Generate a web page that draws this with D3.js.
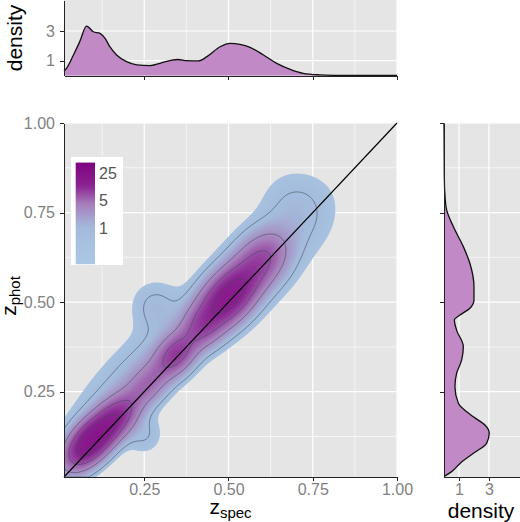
<!DOCTYPE html>
<html>
<meta charset="utf-8">
<style>
  body { margin: 0; background: #fff; }
  svg { display: block; font-family: "Liberation Sans", Arial, sans-serif; }
  .axis path, .axis line { stroke: #222; shape-rendering: crispEdges; }
  .axis text { fill: #7f7f7f; font-size: 16px; }
</style>
<body>
  <svg width="520" height="522"></svg>
</body>

<script src="https://d3js.org/d3.v7.min.js"></script>

<script>

  // marginal density of z_spec (top panel)
  var zspecGrid = [0.012, 0.02, 0.04, 0.059, 0.079, 0.099, 0.119, 0.134, 0.148, 0.168, 0.198, 0.228, 0.267, 0.297, 0.332, 0.35, 0.376, 0.411, 0.436, 0.475, 0.505, 0.534, 0.564, 0.604, 0.643, 0.683, 0.722, 0.772, 0.811, 0.9, 1.0];
  var zspecDens = [0.3, 0.5, 1.38, 2.3, 3.33, 2.95, 2.84, 2.5, 1.94, 1.38, 0.93, 0.71, 0.66, 0.82, 1.04, 1.08, 1.0, 0.98, 1.27, 1.94, 2.17, 2.10, 1.90, 1.38, 0.82, 0.42, 0.15, 0.04, 0.01, 0.0, 0.0];

  // marginal density of z_phot (right panel)
  var zphotGrid = [0.015, 0.018, 0.027, 0.050, 0.078, 0.106, 0.134, 0.157, 0.180, 0.218, 0.264, 0.301, 0.339, 0.376, 0.422, 0.450, 0.464, 0.483, 0.506, 0.543, 0.608, 0.655, 0.711, 0.757, 0.794, 0.85, 1.0];
  var zphotDens = [0.05, 0.18, 0.51, 1.07, 1.96, 2.84, 3.02, 2.73, 1.96, 0.96, 0.73, 0.84, 1.18, 1.29, 0.84, 0.69, 1.07, 1.73, 2.0, 2.0, 1.73, 1.29, 0.62, 0.18, 0.07, 0.02, 0.0];

  // 2d density read as blobs oriented along the diagonal
  //                core1  shoulder mid   core2  mid2   core3  tail   halo lo halo hi lobe    notch  tip
  var blobSpec  = [0.09,  0.165,  0.26,  0.345, 0.42,  0.50,  0.60,  0.216, 0.594, 0.28,   0.25,  0.70];
  var blobPhot  = [0.11,  0.175,  0.27,  0.355, 0.43,  0.515, 0.62,  0.279, 0.608, 0.49,   0.13,  0.77];
  var blobAlong = [0.055, 0.05,   0.05,  0.045, 0.04,  0.07,  0.055, 0.18,  0.17,  0.045,  0.035, 0.06];
  var blobAcross= [0.03,  0.03,   0.03,  0.03,  0.033, 0.038, 0.04,  0.058, 0.07,  0.045,  0.035, 0.07];
  var blobWeight= [0.19,  0.09,   0.04,  0.07,  0.04,  0.26,  0.08,  0.084, 0.075, 0.0115, 0.006, 0.016];

  var axisTicks = [0.25, 0.5, 0.75, 1.0];
  var minorTicks = [0.125, 0.375, 0.625, 0.875];
  var densTicks = [1, 3];
  var legendTicks = [1, 5, 25];
  var legendRange = [0.12, 46];
  var lineLevels = [0.8, 3, 7, 13];

  var svg = d3.select("svg");

  var main = {left: 64, right: 397, top: 123, bottom: 477};
  var topPanel = {top: 0, bottom: 76};
  var rightPanel = {left: 444, right: 520};

  var xScale = d3.scaleLinear().domain([0.012, 1]).range([main.left, main.right]);
  var yScale = d3.scaleLinear().domain([0.012, 1]).range([main.bottom, main.top]);
  var dTop = d3.scaleLinear().domain([0, 5.09]).range([75.5, 0]);
  var dRight = d3.scaleLinear().domain([0, 5.07]).range([444, 520]);

  var colour = d3.scaleLog()
    .domain([0.12, 1, 4, 12, 46])
    .range(["#aac8e3", "#a4bbdc", "#a77fbb", "#8a2290", "#7f037f"])
    .clamp(true);

  //PANELS
  function panel(x0, y0, x1, y1) {
    svg.append("rect").attr("x", x0).attr("y", y0)
      .attr("width", x1 - x0).attr("height", y1 - y0).attr("fill", "#e5e5e5");
  }
  panel(main.left, main.top, main.right, main.bottom);
  panel(main.left, topPanel.top, main.right, topPanel.bottom);
  panel(rightPanel.left, main.top, rightPanel.right, main.bottom);

  function vGrid(vals, y0, y1, w, sc) {
    svg.append("g").selectAll("line").data(vals).enter().append("line")
      .attr("x1", sc).attr("x2", sc).attr("y1", y0).attr("y2", y1)
      .attr("stroke", "#fff").attr("stroke-width", w);
  }
  function hGrid(vals, x0, x1, w, sc) {
    svg.append("g").selectAll("line").data(vals).enter().append("line")
      .attr("y1", sc).attr("y2", sc).attr("x1", x0).attr("x2", x1)
      .attr("stroke", "#fff").attr("stroke-width", w);
  }
  // main grid
  vGrid(minorTicks, main.top, main.bottom, 0.6, xScale);
  hGrid(minorTicks, main.left, main.right, 0.6, yScale);
  vGrid(axisTicks, main.top, main.bottom, 1.2, xScale);
  hGrid(axisTicks, main.left, main.right, 1.2, yScale);
  // top grid
  vGrid(minorTicks, topPanel.top, topPanel.bottom, 0.6, xScale);
  vGrid(axisTicks, topPanel.top, topPanel.bottom, 1.2, xScale);
  hGrid(densTicks, main.left, main.right, 1.2, dTop);
  // right grid
  hGrid(minorTicks, rightPanel.left, rightPanel.right, 0.6, yScale);
  hGrid(axisTicks, rightPanel.left, rightPanel.right, 1.2, yScale);
  vGrid(densTicks, main.top, main.bottom, 1.2, dRight);

  //2D DENSITY
  function density(x, y) {
    var s = 0;
    for (var k = 0; k < blobWeight.length; k++) {
      var dx = x - blobSpec[k], dy = y - blobPhot[k];
      var u = (dx + dy) / Math.SQRT2, v = (dy - dx) / Math.SQRT2;
      var a = blobAlong[k], b = blobAcross[k];
      s += blobWeight[k] / (2 * Math.PI * a * b) * Math.exp(-0.5 * (u * u / (a * a) + v * v / (b * b)));
    }
    return s;
  }

  var cell = 1.5;
  var nx = Math.ceil((main.right - main.left) / cell);
  var ny = Math.ceil((main.bottom - main.top) / cell);
  var values = new Array(nx * ny);
  for (var j = 0; j < ny; j++) {
    for (var i = 0; i < nx; i++) {
      values[j * nx + i] = density(
        xScale.invert(main.left + (i + 0.5) * cell),
        yScale.invert(main.top + (j + 0.5) * cell));
    }
  }

  svg.append("clipPath").attr("id", "clipMain").append("rect")
    .attr("x", main.left).attr("y", main.top)
    .attr("width", main.right - main.left).attr("height", main.bottom - main.top);

  var gridPath = d3.geoPath(d3.geoIdentity().scale(cell).translate([main.left, main.top]));

  var lo = 0.35, hi = 60, nLev = 70;
  var fillLevels = d3.range(nLev).map(function(i) { return lo * Math.pow(hi / lo, i / (nLev - 1)); });

  var dens = svg.append("g").attr("clip-path", "url(#clipMain)");

  dens.selectAll("path.fill")
    .data(d3.contours().size([nx, ny]).thresholds(fillLevels)(values))
    .enter().append("path")
    .attr("class", "fill")
    .attr("d", gridPath)
    .attr("fill", function(d) { return colour(Math.max(d.value, 0.12)); })
    .attr("stroke", "none");

  dens.selectAll("path.line")
    .data(d3.contours().size([nx, ny]).thresholds(lineLevels)(values))
    .enter().append("path")
    .attr("class", "line")
    .attr("d", gridPath)
    .attr("fill", "none")
    .attr("stroke", "#3e4d5c")
    .attr("stroke-opacity", 0.65)
    .attr("stroke-width", 0.9);

  // y = x line
  svg.append("line")
    .attr("x1", xScale(0.012)).attr("y1", yScale(0.012))
    .attr("x2", xScale(1)).attr("y2", yScale(1))
    .attr("stroke", "#000").attr("stroke-width", 1.2);

  //MARGINALS
  var topArea = d3.area()
    .x(function(d, i) { return xScale(zspecGrid[i]); })
    .y0(dTop(0))
    .y1(function(d) { return dTop(d); })
    .curve(d3.curveMonotoneX);
  svg.append("path").datum(zspecDens)
    .attr("d", topArea)
    .attr("fill", "#c189c5").attr("stroke", "none");
  svg.append("path").datum(zspecDens)
    .attr("d", topArea.lineY1())
    .attr("fill", "none").attr("stroke", "#111").attr("stroke-width", 1.3);

  var rightArea = d3.area()
    .y(function(d, i) { return yScale(zphotGrid[i]); })
    .x0(dRight(0))
    .x1(function(d) { return dRight(d); })
    .curve(d3.curveMonotoneY);
  svg.append("path").datum(zphotDens)
    .attr("d", rightArea)
    .attr("fill", "#c189c5").attr("stroke", "none");
  svg.append("path").datum(zphotDens)
    .attr("d", rightArea.lineX1())
    .attr("fill", "none").attr("stroke", "#111").attr("stroke-width", 1.3);

  //AXES
  function styleAxis(g) {
    g.attr("class", "axis");
    g.selectAll(".domain").attr("stroke", "#222").attr("stroke-width", 1.3);
  }
  var fmt = d3.format(".2f");

  svg.append("g").attr("transform", "translate(0," + main.bottom + ")")
    .call(d3.axisBottom(xScale).tickValues(axisTicks).tickFormat(fmt).tickSize(4).tickSizeOuter(0).tickPadding(3))
    .call(styleAxis);
  svg.append("g").attr("transform", "translate(" + main.left + ",0)")
    .call(d3.axisLeft(yScale).tickValues(axisTicks).tickFormat(fmt).tickSize(4).tickSizeOuter(0).tickPadding(5))
    .call(styleAxis);

  svg.append("g").attr("transform", "translate(0," + topPanel.bottom + ")")
    .call(d3.axisBottom(xScale).tickValues(axisTicks).tickFormat("").tickSize(4).tickSizeOuter(0))
    .call(styleAxis);
  svg.append("g").attr("transform", "translate(" + main.left + ",0)")
    .call(d3.axisLeft(dTop).tickValues(densTicks).tickFormat(d3.format("d")).tickSize(4).tickSizeOuter(0).tickPadding(5))
    .call(styleAxis);

  svg.append("g").attr("transform", "translate(0," + main.bottom + ")")
    .call(d3.axisBottom(dRight).tickValues(densTicks).tickFormat(d3.format("d")).tickSize(4).tickSizeOuter(0).tickPadding(3))
    .call(styleAxis);
  svg.append("g").attr("transform", "translate(" + rightPanel.left + ",0)")
    .call(d3.axisLeft(yScale).tickValues(axisTicks).tickFormat("").tickSize(4).tickSizeOuter(0))
    .call(styleAxis);

  //TITLES
  var xt = svg.append("text").attr("x", 230.5).attr("y", 514).attr("text-anchor", "middle").attr("fill", "#000");
  xt.append("tspan").attr("font-size", 21).text("z");
  xt.append("tspan").attr("font-size", 15).attr("dy", 4).text("spec");

  var yt = svg.append("text").attr("transform", "translate(16,296) rotate(-90)").attr("text-anchor", "middle").attr("fill", "#000");
  yt.append("tspan").attr("font-size", 21).text("z");
  yt.append("tspan").attr("font-size", 15).attr("dy", 4).text("phot");

  svg.append("text").attr("transform", "translate(22,38) rotate(-90)")
    .attr("text-anchor", "middle").attr("font-size", 21).attr("fill", "#000").text("density");
  svg.append("text").attr("x", 481).attr("y", 518)
    .attr("text-anchor", "middle").attr("font-size", 21).attr("fill", "#000").text("density");

  //LEGEND
  var legScale = d3.scaleLog().domain([1, 25]).range([228, 173]);
  var leg = svg.append("g");
  leg.append("rect").attr("x", 71).attr("y", 157).attr("width", 52).attr("height", 108).attr("fill", "#fff");

  var grad = svg.append("defs").append("linearGradient").attr("id", "legGrad")
    .attr("x1", 0).attr("y1", 1).attr("x2", 0).attr("y2", 0);
  var stops = d3.range(21).map(function(i) {
    return legendRange[0] * Math.pow(legendRange[1] / legendRange[0], i / 20);
  });
  grad.selectAll("stop").data(stops).enter().append("stop")
    .attr("offset", function(d, i) { return (i / 20 * 100) + "%"; })
    .attr("stop-color", function(d) { return colour(d); });

  leg.append("rect")
    .attr("x", 75.7).attr("width", 19.3)
    .attr("y", legScale(legendRange[1]))
    .attr("height", legScale(legendRange[0]) - legScale(legendRange[1]))
    .attr("fill", "url(#legGrad)");

  leg.selectAll("text").data(legendTicks).enter().append("text")
    .attr("x", 99).attr("y", legScale).attr("dy", "0.36em")
    .attr("font-size", 16).attr("fill", "#555")
    .text(function(d) { return d; });

</script>
</html>
